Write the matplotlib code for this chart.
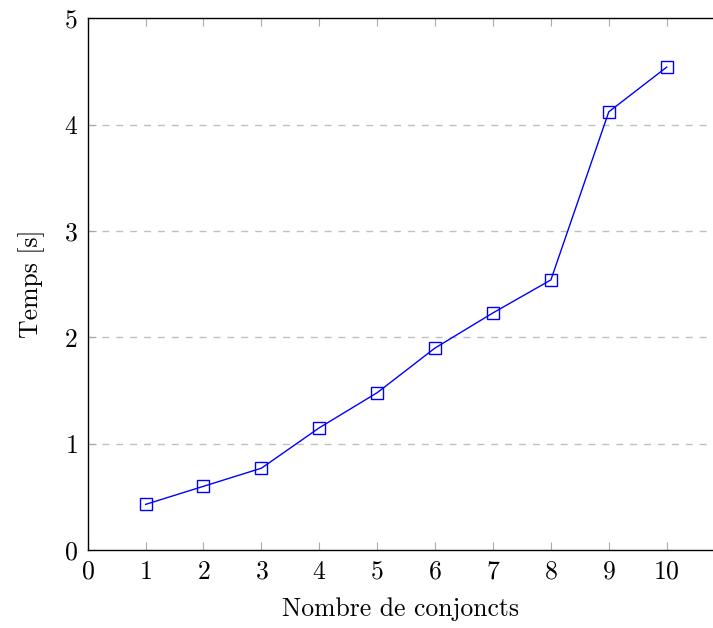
import matplotlib.pyplot as plt

plt.rcParams["font.family"] = "cmr10"
plt.rcParams["mathtext.fontset"] = "cm"
plt.rcParams["axes.formatter.use_mathtext"] = True

# --- data ---
conjoncts = [1, 2, 3, 4, 5, 6, 7, 8, 9, 10]
temps = [0.43, 0.60, 0.77, 1.15, 1.48, 1.90, 2.23, 2.54, 4.12, 4.54]
x_ticks = list(range(0, 11))
y_ticks = [0, 1, 2, 3, 4, 5]

fig = plt.figure(figsize=(7.13, 6.28), dpi=100)
ax = fig.add_axes([0.123, 0.124, 0.877, 0.847])

ax.plot(conjoncts, temps, color="blue", linewidth=1.0,
        marker="s", markersize=8.5, markerfacecolor="none",
        markeredgecolor="blue", markeredgewidth=1.0)

ax.set_xlim(0, 10.8)
ax.set_ylim(0, 5)
ax.set_xticks(x_ticks)
ax.set_yticks(y_ticks)
ax.tick_params(axis="both", direction="in", color="#aaaaaa", length=6,
               labelsize=18.5, top=True, pad=7)
ax.tick_params(axis="x", labeltop=False)

for v in y_ticks[1:-1]:
    ax.axhline(v, color="#c0c0c0", linewidth=1.0, linestyle=(0, (5, 5)), zorder=0)

ax.spines["right"].set_visible(False)
for s in ["left", "bottom", "top"]:
    ax.spines[s].set_linewidth(1.0)

ax.set_xlabel("Nombre de conjoncts", fontsize=18.5, labelpad=10)
ax.set_ylabel("Temps [s]", fontsize=18.5, labelpad=14)

fig.savefig("out.png", dpi=100)
